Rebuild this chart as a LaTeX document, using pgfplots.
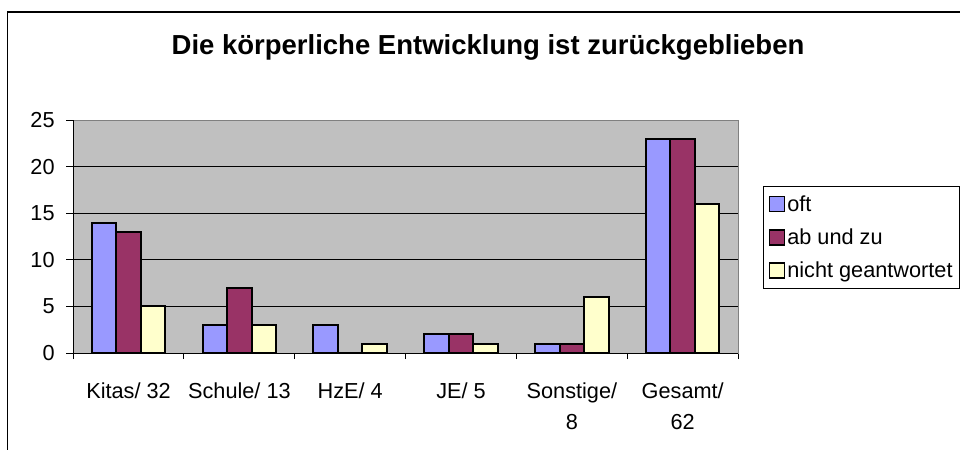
\documentclass[border=0pt]{standalone}
\usepackage{fontspec}
\setmainfont{Liberation Sans}
\usepackage{pgfplots}
\pgfplotsset{compat=1.18}
\definecolor{cOft}{HTML}{9999FF}
\definecolor{cAb}{HTML}{993366}
\definecolor{cNicht}{HTML}{FFFFCC}
\definecolor{plotbg}{HTML}{C0C0C0}
\definecolor{frameg}{HTML}{808080}
\begin{document}
\begin{tikzpicture}[x=1bp,y=1bp]
\useasboundingbox (0,0) rectangle (960,450);
\fill[white] (0,0) rectangle (960,450);
\draw[line width=1.5bp] (7.5,-10) -- (7.5,438) -- (975,438);
\node[anchor=base, font=\fontsize{27.5bp}{32bp}\selectfont\bfseries] at (488,395) {Die körperliche Entwicklung ist zurückgeblieben};
\begin{axis}[
  at={(66,104)}, anchor=south west,
  scale only axis, width=665bp, height=233bp,
  ybar=0pt, bar width=24.5bp,
  xmin=-0.5, xmax=5.5, ymin=0, ymax=25,
  xtick={0,1,2,3,4,5},
  xticklabels={Kitas/ 32, Schule/ 13, HzE/ 4, JE/ 5, Sonstige/\\8, Gesamt/\\62},
  minor xtick={-0.5,0.5,1.5,2.5,3.5,4.5,5.5},
  ytick={0,5,10,15,20,25},
  xtick pos=bottom, ytick pos=left,
  major x tick style={draw=none},
  tick align=outside,
  major tick length=7bp, minor tick length=6bp,
  tick style={black, line width=1bp},
  ymajorgrids, grid style={black, line width=0.8bp},
  axis background/.style={fill=plotbg},
  axis line style={draw=frameg, line width=1bp},
  xticklabel style={align=center, font=\fontsize{21.7bp}{31bp}\selectfont, yshift=-19bp},
  yticklabel style={font=\fontsize{21.7bp}{26bp}\selectfont, xshift=-8bp},
  /pgf/number format/assume math mode=true,
  legend style={at={(axis description cs:1.038,0.7167)}, anchor=north west,
    draw=black, line width=0.8bp, fill=white, font=\fontsize{21.7bp}{26bp}\selectfont,
    inner xsep=5bp, inner ysep=7bp, row sep=12bp,
    /tikz/every even column/.append style={column sep=5bp}},
  legend cell align=left,
  legend image code/.code={\draw[#1, line width=1.5bp, draw=black] (0bp,-7.5bp) rectangle (15bp,7.5bp);},
  every axis plot/.append style={draw=black, line width=2bp},
  clip=false,
]
\addplot[fill=cOft] coordinates {(0,14) (1,3) (2,3) (3,2) (4,1) (5,23)};
\addplot[fill=cAb] coordinates {(0,13) (1,7) (2,0) (3,2) (4,1) (5,23)};
\addplot[fill=cNicht] coordinates {(0,5) (1,3) (2,1) (3,1) (4,6) (5,16)};
\legend{oft, ab und zu, nicht geantwortet}
\draw[black, line width=1bp] (rel axis cs:0,1) -- (rel axis cs:0,0) -- (rel axis cs:1,0);
\end{axis}
\end{tikzpicture}
\end{document}
